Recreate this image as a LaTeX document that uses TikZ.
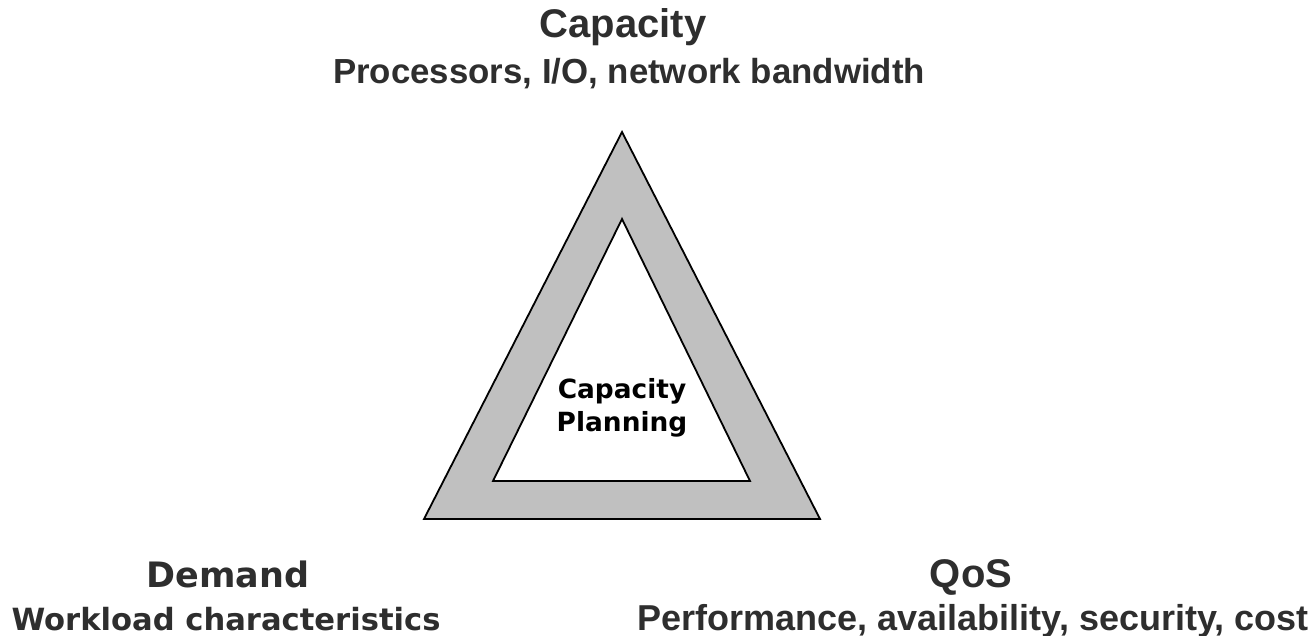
\documentclass[tikz,border=0pt]{standalone}
\usepackage{fontspec}
\setmainfont{Liberation Sans}
\newfontfamily\heavyfont{DejaVu Sans}
\usetikzlibrary{positioning}
\definecolor{textgray}{HTML}{2E2E2E}
\definecolor{rimgray}{HTML}{C0C0C0}
\tikzset{%
	title/.style={%
		text=textgray,
		font=\bfseries\fontsize{20}{22}\selectfont,
		inner sep=0pt,
		anchor=base
	},
	subtitle/.style={%
		text=textgray,
		font=\bfseries\fontsize{17.4}{19}\selectfont,
		inner sep=0pt,
		anchor=base
	},
	heavytitle/.style={%
		title,
		font=\heavyfont\bfseries\fontsize{17.5}{20}\selectfont
	},
	heavysub/.style={%
		subtitle,
		font=\heavyfont\bfseries\fontsize{15.3}{17}\selectfont
	},
	rim/.style={%
		fill=rimgray,
		draw=black,
		line width=0.9pt,
		line join=miter
	},
	hole/.style={%
		fill=white,
		draw=black,
		line width=0.9pt
	}
}

\begin{document}
\begin{tikzpicture}[x=0.5pt, y=-0.5pt]
        \useasboundingbox (0,0) rectangle (1316,636);
        % triangle
        \coordinate (top) at (622,132);
        \coordinate (left) at (424,519);
        \coordinate (right) at (820,519);
        \coordinate (itop) at (622,219);
        \coordinate (ileft) at (493,481);
        \coordinate (iright) at (750,481);
        \draw [rim] (top) -- (left) -- (right) -- cycle;
        \draw [hole] (itop) -- (ileft) -- (iright) -- cycle;
        \node [heavysub, text=black, font=\heavyfont\bfseries\fontsize{13.2}{15}\selectfont] (plan) at (622,398) {Capacity};
        \node [heavysub, text=black, font=\heavyfont\bfseries\fontsize{13.2}{15}\selectfont] (plan2) at (622,431) {Planning};
        % labels
        \node [title] (capacity) at (623,38) {Capacity};
        \node [subtitle] (capsub) at (629,84) {Processors, I/O, network bandwidth};
        \node [heavytitle] (demand) at (228,587) {Demand};
        \node [heavysub] (demsub) at (226,630) {Workload characteristics};
        \node [title] (qos) at (971,587) {QoS};
        \node [subtitle, font=\bfseries\fontsize{18}{20}\selectfont] (qossub) at (973,630) {Performance, availability, security, cost};
\end{tikzpicture}
\end{document}
